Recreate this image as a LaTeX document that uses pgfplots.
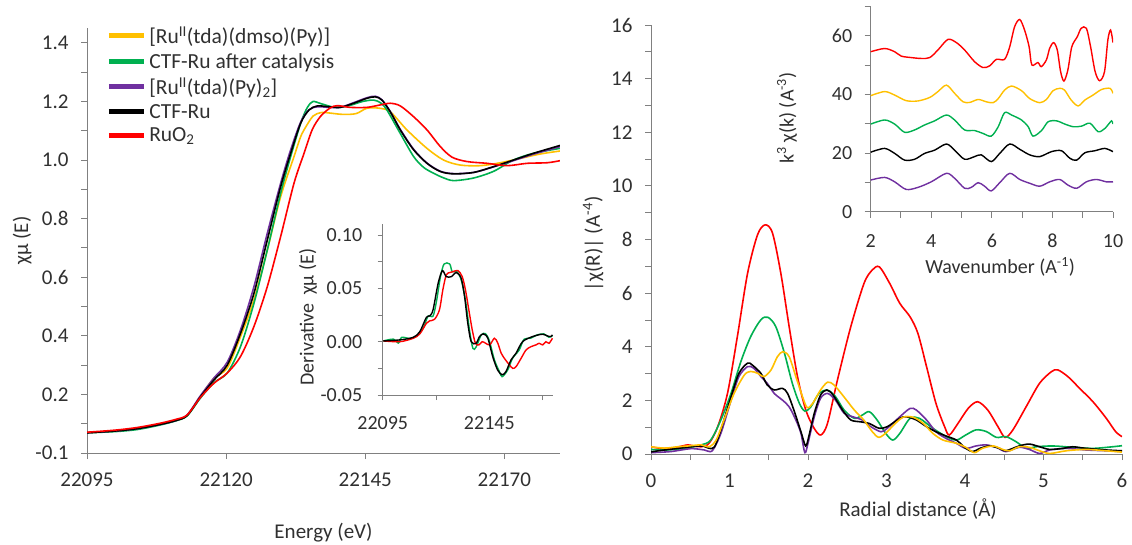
\documentclass[border=0pt]{standalone}
\usepackage{fontspec}
\setmainfont{Carlito}
\usepackage{pgfplots}
\pgfplotsset{compat=1.18}
\definecolor{cY}{HTML}{FFC000}
\definecolor{cG}{HTML}{00B050}
\definecolor{cP}{HTML}{7030A0}
\definecolor{cR}{HTML}{FF0000}
\definecolor{axgray}{HTML}{808080}
\definecolor{txt}{HTML}{303030}
\pgfplotsset{
  exstyle/.style={
    scale only axis,
    axis x line*=bottom, axis y line*=left,
    axis line style={axgray, line width=1pt},
    every tick/.style={axgray, line width=1pt},
    tick align=outside,
    major tick length=6pt, minor tick length=6pt,
    tick label style={font=\fontsize{21}{25}\selectfont, text=txt},
    label style={font=\fontsize{21}{25}\selectfont, text=txt},
    xticklabel style={yshift=-10pt},
    yticklabel style={xshift=-9pt},
    /pgf/number format/assume math mode=true,
    scaled ticks=false,
    every axis plot/.append style={line width=1.6pt, smooth, mark=none},
  },
  insetstyle/.style={
    tick label style={font=\fontsize{20}{24}\selectfont, text=txt},
    label style={font=\fontsize{20}{24}\selectfont, text=txt},
    xticklabel style={yshift=-3pt},
  }
}
\begin{document}
\begin{tikzpicture}
\useasboundingbox (0,0) rectangle (1132pt,544pt);
% ---------------- Left main: XANES
\begin{axis}[exstyle,
  at={(87pt,91pt)}, anchor=south west, width=473pt, height=424.7pt,
  xmin=22095, xmax=22180, ymin=0, ymax=1.45,
  xtick={22095,22120,22145,22170}, xticklabels={22095,22120,22145,22170},
  ytick={0,0.2,0.4,0.6,0.8,1.0,1.2,1.4},
  yticklabels={-0.1,0.2,0.4,0.6,0.8,1.0,1.2,1.4},
  minor ytick={0.1,0.3,0.5,0.7,0.9,1.1,1.3},
  xlabel={Energy (eV)}, ylabel={χμ (E)},
  xlabel style={at={(axis description cs:0.5,-0.188)}, anchor=center},
  ylabel style={at={(axis description cs:-0.137,0.5)}, anchor=center},
  legend style={at={(axis description cs:0.034,1.012)}, anchor=north west, draw=none, fill=none,
    font=\fontsize{21.5}{25}\selectfont, text=txt, row sep=6pt,
    nodes={inner xsep=3pt, inner ysep=1pt}},
  legend cell align=left,
  legend image code/.code={\draw[line width=5pt] (0pt,0pt) -- (35pt,0pt);},
]
\addplot[cY] coordinates {(22095,0.069)(22100,0.075)(22104,0.083)(22108,0.097)(22111,0.111)(22113,0.128)(22115.4,0.194)(22117.8,0.255)(22120.2,0.290)(22122.6,0.398)(22125,0.523)(22127.4,0.693)(22129.8,0.875)(22132.2,1.012)(22133.3,1.075)(22134,1.103)(22135.6,1.150)(22137,1.162)(22138,1.162)(22141,1.156)(22143.4,1.159)(22145.3,1.177)(22147.6,1.177)(22149.5,1.165)(22152.5,1.103)(22156.1,1.040)(22159.1,1.000)(22162.1,0.983)(22165.7,0.981)(22169.3,0.991)(22172.9,1.006)(22176.5,1.021)(22180,1.031)};
\addlegendentry{[Ru\textsuperscript{II}(tda)(dmso)(Py)]}
\addplot[cG] coordinates {(22095,0.069)(22100,0.073)(22104,0.080)(22108,0.095)(22111,0.110)(22113,0.127)(22115.4,0.188)(22117.8,0.240)(22120.2,0.273)(22122.6,0.364)(22125,0.511)(22127.4,0.693)(22129.8,0.887)(22131.6,1.012)(22133.4,1.126)(22134.6,1.180)(22135.6,1.200)(22137,1.193)(22139,1.182)(22140.5,1.180)(22142.5,1.188)(22144.5,1.200)(22146.5,1.205)(22147.8,1.195)(22148.9,1.171)(22151.3,1.091)(22153.7,1.012)(22155.5,0.975)(22157.3,0.955)(22159,0.940)(22160.9,0.930)(22164.5,0.939)(22168.1,0.962)(22171.6,1.000)(22175.2,1.023)(22180,1.040)};
\addlegendentry{CTF-Ru after catalysis}
\addplot[cP] coordinates {(22095,0.069)(22100,0.075)(22104,0.083)(22108,0.097)(22111,0.111)(22113,0.130)(22115.4,0.196)(22117.8,0.256)(22120.2,0.310)(22122.6,0.421)(22125,0.568)(22127.4,0.750)(22129.8,0.921)(22131.6,1.035)(22133.4,1.130)(22134.9,1.172)(22136.4,1.182)(22138.5,1.180)(22140.5,1.180)(22142.9,1.196)(22145.3,1.213)(22146.8,1.218)(22148,1.206)(22149.5,1.166)(22151.3,1.105)(22153.7,1.037)(22156.1,0.990)(22158.5,0.962)(22160.9,0.954)(22164.5,0.958)(22168.1,0.977)(22171.6,0.998)(22175.2,1.020)(22180,1.046)};
\addlegendentry{[Ru\textsuperscript{II}(tda)(Py)\textsubscript{2}]}
\addplot[black] coordinates {(22095,0.069)(22100,0.075)(22104,0.083)(22108,0.097)(22111,0.111)(22113,0.128)(22115.4,0.192)(22117.8,0.249)(22120.2,0.300)(22122.6,0.409)(22125,0.545)(22127.4,0.727)(22129.8,0.909)(22131.6,1.023)(22133.4,1.126)(22134.9,1.171)(22136.4,1.185)(22138.5,1.182)(22140.5,1.180)(22142.9,1.194)(22145.3,1.211)(22146.8,1.216)(22148,1.205)(22149.5,1.165)(22151.3,1.103)(22153.7,1.035)(22156.1,0.989)(22158.5,0.961)(22160.9,0.953)(22164.5,0.958)(22168.1,0.978)(22171.6,1.000)(22175.2,1.023)(22180,1.050)};
\addlegendentry{CTF-Ru}
\addplot[cR] coordinates {(22095,0.071)(22100,0.078)(22104,0.087)(22108,0.101)(22111,0.115)(22113,0.130)(22115.4,0.190)(22117.8,0.238)(22120.2,0.273)(22122.6,0.330)(22125,0.432)(22127.4,0.568)(22129.8,0.739)(22132.2,0.921)(22134,1.023)(22135.5,1.105)(22137,1.150)(22138.7,1.178)(22140,1.186)(22142.3,1.180)(22145.3,1.180)(22147.6,1.188)(22149.5,1.194)(22151.3,1.185)(22153.7,1.148)(22156.1,1.103)(22158.5,1.046)(22160.6,1.010)(22163.3,0.995)(22166.9,0.989)(22170.5,0.981)(22174.1,0.989)(22177.7,0.991)(22180,0.998)};
\addlegendentry{RuO\textsubscript{2}}
\end{axis}
% ---------------- Left inset: derivative
\begin{axis}[exstyle, insetstyle,
  at={(382.7pt,149pt)}, anchor=south west, width=170.6pt, height=170.6pt,
  xmin=22095, xmax=22175, ymin=-0.05, ymax=0.11,
  xtick={22095,22120,22145,22170}, xticklabels={22095,,22145,},
  ytick={-0.05,0,0.05,0.10}, yticklabels={-0.05,0.00,0.05,0.10},
  minor ytick={-0.025,0.025,0.075},
  major tick length=5pt, minor tick length=5pt,
  yticklabel style={xshift=-3pt},
  ylabel={Derivative\ \ χμ (E)},
  ylabel style={at={(axis description cs:-0.438,0.457)}, anchor=center},
  every axis plot/.append style={line width=1.4pt},
]
\addplot[cG] coordinates {(22095.3,0.0007)(22100,0.0024)(22102.4,-0.0013)(22103.9,0.0041)(22107.8,0.0030)(22110.9,0.0052)(22114,0.0128)(22116.3,0.024)(22118.6,0.024)(22120.2,0.0376)(22122.1,0.061)(22123.8,0.0729)(22126.4,0.0729)(22127.6,0.0657)(22129.8,0.0657)(22131.8,0.058)(22133.8,0.039)(22135.7,0.011)(22137.3,-0.0063)(22138.8,-0.005)(22141.2,0.0063)(22143.2,0.0075)(22145.0,0.001)(22147.4,-0.0171)(22149.7,-0.028)(22151.0,-0.0328)(22153.6,-0.0266)(22155.9,-0.0156)(22159,-0.0078)(22161.3,0.0023)(22164.4,0.0033)(22167.5,0.0064)(22170.6,0.0073)(22172.9,0.0042)(22174.6,0.0055)};
\addplot[cR] coordinates {(22095.3,0.0007)(22103.1,0.0)(22109.3,0.0032)(22112.4,0.0073)(22115.5,0.0173)(22117,0.0195)(22119.3,0.0210)(22121.6,0.0298)(22123.2,0.0486)(22124.8,0.0626)(22126.4,0.0648)(22128,0.0657)(22130.3,0.0667)(22132.3,0.061)(22133.8,0.0486)(22135.4,0.0298)(22137,0.011)(22138.5,-0.0015)(22140.1,-0.003)(22141.7,0.0)(22143.3,-0.0015)(22145.2,-0.003)(22147.4,0.0032)(22149,-0.0015)(22150.6,-0.0109)(22152.6,-0.0171)(22154.5,-0.0219)(22156,-0.025)(22157.5,-0.0235)(22159.9,-0.0156)(22162.2,-0.0078)(22164.5,-0.0047)(22166.9,-0.003)(22168.4,-0.0015)(22170,-0.003)(22171.5,0.0)(22173,-0.0015)(22174.6,0.0032)};
\addplot[black] coordinates {(22095.3,0.0007)(22103.1,0.0017)(22109.3,0.0041)(22112.4,0.0094)(22115.5,0.0229)(22117,0.0241)(22118.6,0.0298)(22121,0.0548)(22123,0.0666)(22124.8,0.061)(22127.2,0.061)(22129.5,0.0648)(22131.8,0.0595)(22133.4,0.0422)(22134.9,0.0173)(22136.5,0.0)(22138.8,-0.0015)(22140.4,0.0048)(22142.2,0.0073)(22144.3,0.0032)(22146.6,-0.0141)(22148.9,-0.0266)(22151,-0.031)(22152.8,-0.028)(22155.2,-0.017)(22157.5,-0.0109)(22160.6,0.0)(22165.3,0.0048)(22169.9,0.007)(22172.2,0.0054)(22173.8,0.0048)(22174.6,0.0064)};
\end{axis}
% ---------------- Right main: |chi(R)|
\begin{axis}[exstyle,
  at={(651pt,90pt)}, anchor=south west, width=471pt, height=428.8pt,
  xmin=0, xmax=6, ymin=0, ymax=16,
  xtick={0,1,2,3,4,5,6}, minor xtick={0.5,1.5,2.5,3.5,4.5,5.5},
  ytick={0,2,4,6,8,10,12,14,16}, minor ytick={1,3,5,7,9,11,13,15},
  xlabel={Radial distance (Å)}, ylabel={|χ(R)| (A\textsuperscript{-4})},
  xlabel style={at={(axis description cs:0.567,-0.128)}, anchor=center},
  ylabel style={at={(axis description cs:-0.123,0.49)}, anchor=center},
]
\addplot[cR] coordinates {(0,0.27)(0.1,0.22)(0.25,0.21)(0.4,0.30)(0.47,0.34)(0.55,0.30)(0.64,0.27)(0.74,0.40)(0.85,1.02)(0.975,2.27)(1.10,4.38)(1.23,6.74)(1.357,8.18)(1.455,8.55)(1.548,8.24)(1.654,6.74)(1.76,4.75)(1.866,2.89)(1.972,1.64)(2.078,0.96)(2.163,0.71)(2.248,1.14)(2.375,2.76)(2.545,4.75)(2.714,6.37)(2.82,6.87)(2.91,6.98)(3.04,6.37)(3.17,5.62)(3.30,5.12)(3.40,4.5)(3.51,3.26)(3.63,1.89)(3.74,1.02)(3.80,0.71)(3.91,1.14)(4.04,1.70)(4.16,1.95)(4.29,1.64)(4.42,1.02)(4.51,0.62)(4.61,0.90)(4.78,1.77)(4.95,2.64)(5.10,3.07)(5.18,3.14)(5.31,2.89)(5.46,2.45)(5.63,1.95)(5.80,1.33)(5.92,0.83)(6.0,0.65)};
\addplot[cG] coordinates {(0,0.17)(0.2,0.15)(0.42,0.21)(0.64,0.34)(0.76,0.52)(0.89,1.27)(1.02,2.27)(1.145,3.45)(1.27,4.38)(1.40,5.01)(1.49,5.10)(1.59,4.75)(1.70,3.76)(1.80,2.64)(1.89,1.89)(1.96,1.60)(2.036,1.76)(2.14,2.26)(2.25,2.38)(2.35,2.14)(2.46,1.64)(2.59,1.33)(2.69,1.45)(2.78,1.58)(2.88,1.27)(2.99,0.77)(3.08,0.52)(3.17,0.77)(3.30,1.33)(3.42,1.33)(3.59,0.96)(3.76,0.65)(3.89,0.52)(4.01,0.71)(4.14,0.90)(4.27,0.84)(4.40,0.62)(4.52,0.65)(4.65,0.46)(4.78,0.21)(4.90,0.27)(5.12,0.30)(5.37,0.25)(5.63,0.21)(5.88,0.27)(6.0,0.31)};
\addplot[cP] coordinates {(0,0.05)(0.25,0.09)(0.51,0.20)(0.68,0.15)(0.78,0.12)(0.89,0.77)(1.02,2.01)(1.12,2.89)(1.23,3.26)(1.31,3.20)(1.40,2.89)(1.48,2.64)(1.57,2.26)(1.675,2.01)(1.76,1.76)(1.845,1.27)(1.91,0.77)(1.96,0.05)(2.0,0.40)(2.08,1.39)(2.16,2.08)(2.25,2.26)(2.35,2.01)(2.46,1.52)(2.57,1.39)(2.69,1.27)(2.80,1.02)(2.93,0.83)(3.01,0.96)(3.17,1.39)(3.30,1.70)(3.38,1.64)(3.51,1.27)(3.63,0.83)(3.76,0.58)(3.89,0.40)(4.01,0.21)(4.14,0.30)(4.27,0.34)(4.40,0.25)(4.52,0.09)(4.69,0.25)(4.82,0.17)(4.95,0.02)(5.08,0.15)(5.29,0.21)(5.54,0.15)(5.80,0.12)(6.0,0.09)};
\addplot[black] coordinates {(0,0.08)(0.17,0.15)(0.34,0.21)(0.51,0.27)(0.66,0.30)(0.74,0.21)(0.81,0.27)(0.89,0.90)(1.02,2.14)(1.12,3.01)(1.23,3.39)(1.29,3.32)(1.40,3.01)(1.48,2.58)(1.57,2.39)(1.675,2.45)(1.74,2.26)(1.82,1.64)(1.91,0.83)(1.97,0.30)(2.01,0.65)(2.08,1.52)(2.16,2.20)(2.24,2.39)(2.32,2.20)(2.44,1.64)(2.545,1.27)(2.67,1.20)(2.78,1.14)(2.905,0.96)(3.01,1.02)(3.17,1.33)(3.25,1.39)(3.38,1.27)(3.51,1.02)(3.63,0.83)(3.76,0.67)(3.89,0.52)(4.01,0.21)(4.10,0.09)(4.19,0.21)(4.31,0.30)(4.44,0.21)(4.52,0.12)(4.69,0.30)(4.82,0.37)(4.95,0.27)(5.08,0.17)(5.25,0.21)(5.37,0.27)(5.54,0.21)(5.80,0.15)(6.0,0.12)};
\addplot[cY] coordinates {(0,0.27)(0.17,0.22)(0.34,0.27)(0.47,0.30)(0.64,0.34)(0.74,0.27)(0.83,0.52)(0.93,1.27)(1.06,2.27)(1.19,2.95)(1.27,3.08)(1.36,3.01)(1.44,2.89)(1.53,3.14)(1.61,3.63)(1.68,3.82)(1.76,3.63)(1.845,2.89)(1.93,2.14)(1.99,1.73)(2.06,1.89)(2.16,2.39)(2.25,2.68)(2.33,2.58)(2.44,2.20)(2.59,1.64)(2.71,1.27)(2.82,0.83)(2.905,0.62)(3.01,0.83)(3.08,1.05)(3.21,1.37)(3.34,1.37)(3.47,1.14)(3.59,0.77)(3.72,0.52)(3.89,0.40)(4.01,0.25)(4.12,0.05)(4.22,0.21)(4.36,0.30)(4.48,0.17)(4.57,0.12)(4.69,0.27)(4.82,0.25)(4.95,0.12)(5.08,0.02)(5.29,0.12)(5.54,0.17)(5.80,0.12)(6.0,0.07)};
\end{axis}
% ---------------- Right inset: k-space
\begin{axis}[exstyle, insetstyle,
  at={(870.7pt,332.3pt)}, anchor=south west, width=242.3pt, height=205.1pt,
  xmin=2, xmax=10, ymin=0, ymax=70,
  xtick={2,4,6,8,10}, minor xtick={3,5,7,9},
  ytick={0,20,40,60}, minor ytick={10,30,50,70},
  xlabel={Wavenumber (A\textsuperscript{-1})}, ylabel={k\textsuperscript{3} χ(k) (A\textsuperscript{-3})},
  xlabel style={at={(axis description cs:0.534,-0.27)}, anchor=center},
  ylabel style={at={(axis description cs:-0.345,0.457)}, anchor=center},
  every axis plot/.append style={line width=1.4pt},
]
\addplot[cR] coordinates {(2.0,54.6)(2.46,55.7)(2.79,54.6)(3.01,53.1)(3.34,52.6)(3.67,52.3)(3.95,52.6)(4.22,55.2)(4.55,58.8)(4.83,57.7)(5.10,55.2)(5.43,51.2)(5.71,49.2)(5.93,49.8)(6.15,52.0)(6.42,52.0)(6.59,56.3)(6.75,63.1)(6.92,65.6)(7.08,62.0)(7.23,56.3)(7.32,50.1)(7.52,50.9)(7.63,49.5)(7.80,51.8)(7.91,55.8)(8.04,57.7)(8.16,55.2)(8.27,47.8)(8.38,44.6)(8.51,48.4)(8.64,56.3)(8.82,59.7)(8.95,62.6)(9.12,62.6)(9.26,56.3)(9.41,47.8)(9.56,44.7)(9.72,47.8)(9.83,58.6)(9.92,62.0)(10.0,57.7)};
\addplot[cY] coordinates {(2.0,39.6)(2.46,41.0)(2.79,39.8)(3.17,37.9)(3.56,37.8)(3.95,39.0)(4.22,41.0)(4.50,43.2)(4.77,40.4)(5.05,37.5)(5.27,37.3)(5.55,38.3)(5.82,37.5)(6.04,37.2)(6.21,38.6)(6.42,41.5)(6.65,42.9)(6.98,41.3)(7.25,38.6)(7.58,37.2)(7.80,38.3)(8.02,41.3)(8.24,42.1)(8.40,41.5)(8.62,38.1)(8.85,36.1)(9.07,38.1)(9.34,39.8)(9.62,41.7)(9.90,42.1)(10.0,40.4)};
\addplot[cG] coordinates {(2.0,29.9)(2.46,31.3)(2.79,29.9)(3.12,27.1)(3.45,27.9)(3.78,29.6)(4.11,31.0)(4.50,33.0)(4.77,31.3)(5.10,27.9)(5.43,27.7)(5.71,26.7)(5.98,25.8)(6.21,29.0)(6.42,33.8)(6.65,33.0)(6.98,31.3)(7.20,29.0)(7.36,25.8)(7.64,27.7)(7.86,30.7)(8.14,31.0)(8.41,29.9)(8.69,29.0)(8.96,29.2)(9.24,30.2)(9.51,27.3)(9.73,28.4)(9.95,31.0)(10.0,29.9)};
\addplot[black] coordinates {(2.0,20.3)(2.46,21.6)(2.79,19.9)(3.12,17.6)(3.45,17.9)(3.78,19.9)(4.11,21.0)(4.50,23.1)(4.77,21.0)(5.10,17.9)(5.43,18.8)(5.65,19.4)(5.98,17.1)(6.26,19.9)(6.59,23.1)(6.92,21.3)(7.25,19.4)(7.58,18.8)(7.97,20.5)(8.30,20.8)(8.58,18.2)(8.80,17.6)(9.07,20.1)(9.40,20.8)(9.73,21.6)(10.0,20.5)};
\addplot[cP] coordinates {(2.0,10.8)(2.46,11.7)(2.79,10.2)(3.17,7.6)(3.56,8.3)(4.00,10.2)(4.50,13.1)(4.77,11.4)(5.10,8.0)(5.32,8.3)(5.55,9.9)(5.76,8.7)(5.98,7.1)(6.26,9.9)(6.59,13.1)(6.92,11.0)(7.25,9.7)(7.58,8.7)(7.91,10.2)(8.24,11.0)(8.51,9.1)(8.80,8.0)(9.12,10.2)(9.45,11.0)(9.78,10.2)(10.0,10.2)};
\end{axis}
\end{tikzpicture}
\end{document}
